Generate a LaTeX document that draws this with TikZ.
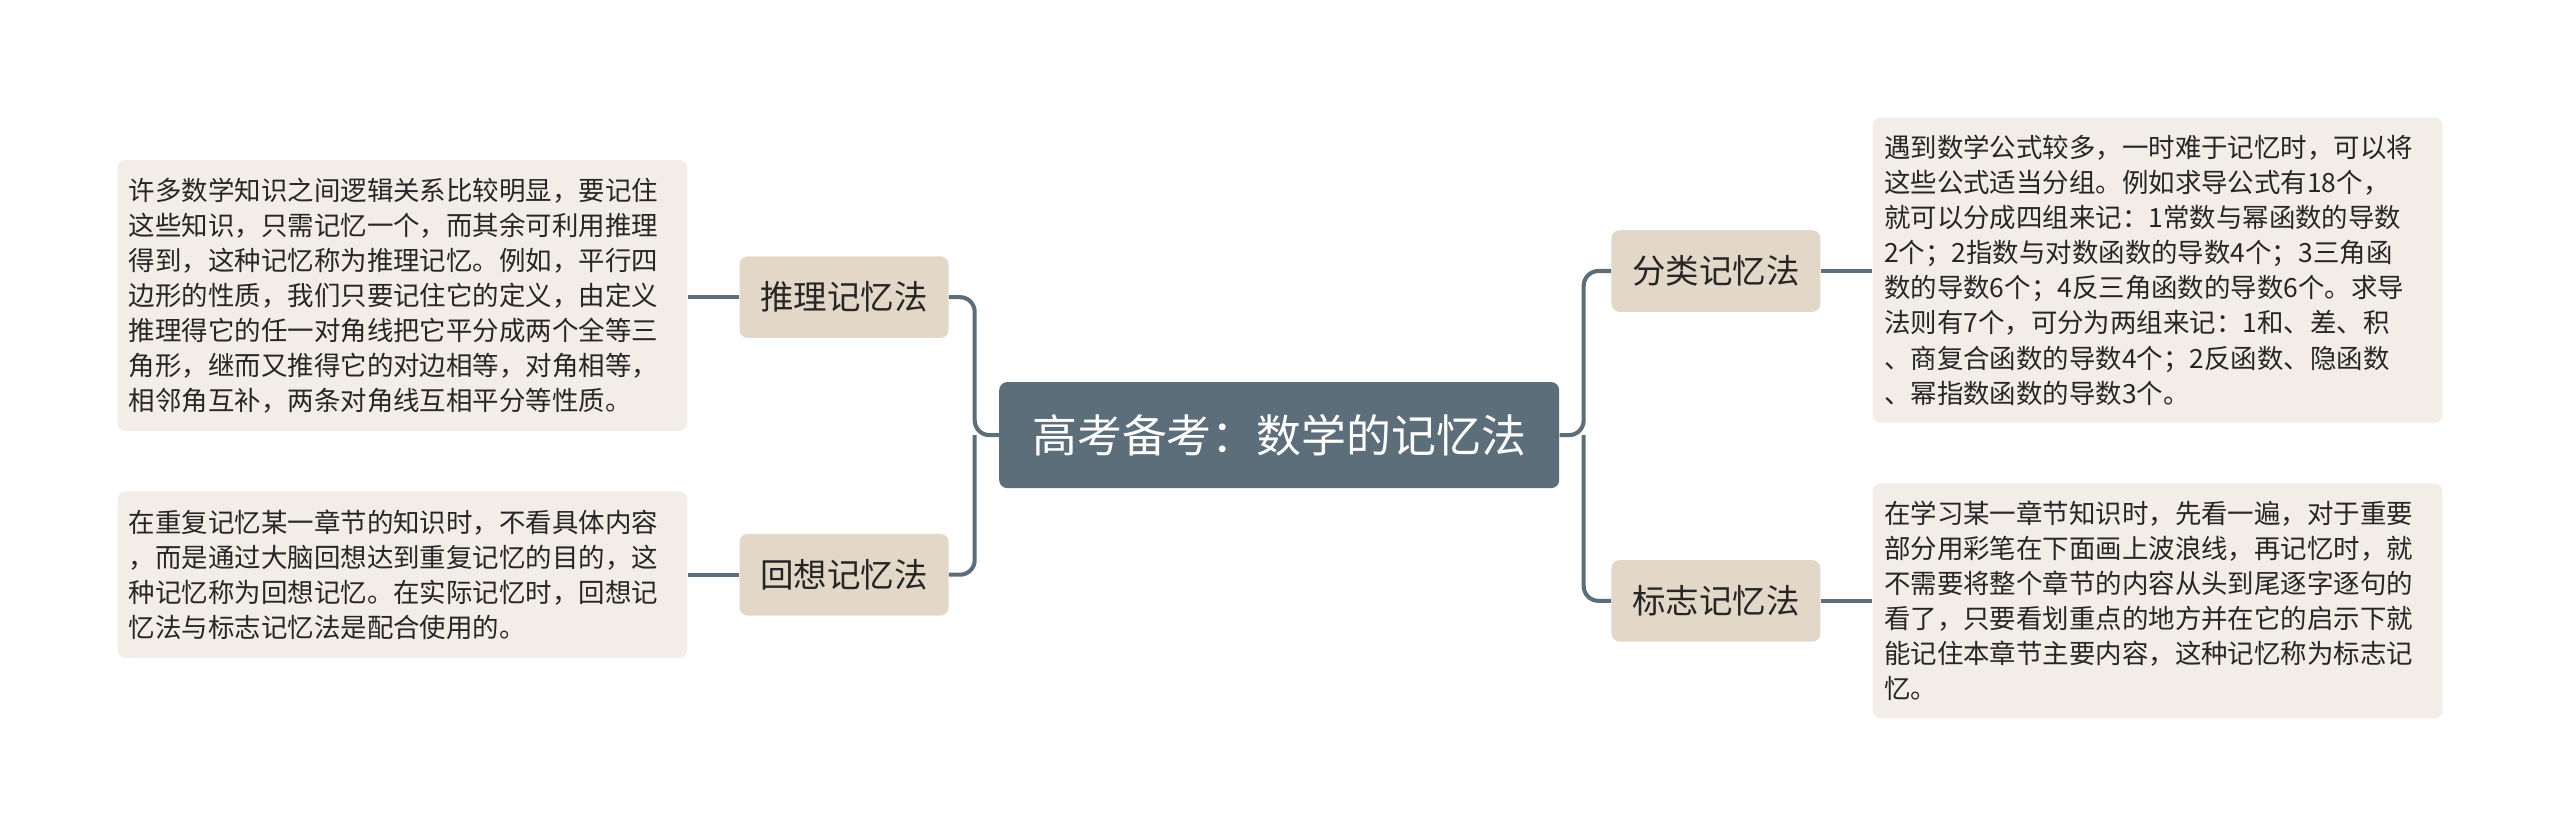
\documentclass[tikz,border=0pt]{standalone}
\usepackage{fontspec}
\setmainfont{Noto Sans CJK SC}
\begin{document}
\begin{tikzpicture}[x=1pt,y=-1pt,
  conn/.style={draw=c1,line width=2.5pt,rounded corners=9pt},
  topic/.style={fill=c2,rounded corners=5pt,minimum width=128pt,minimum height=50pt,font=\fontsize{20.5}{24}\selectfont,text=black!85,inner sep=0pt},
  desc/.style={fill=c3,rounded corners=5pt,minimum width=349pt,text width=335pt,align=left,inner xsep=7pt,inner ysep=0pt,font=\fontsize{16.2}{21.5}\selectfont,text=black!85}]
\definecolor{c1}{HTML}{5B6E7A}
\definecolor{c2}{HTML}{E3D8C8}
\definecolor{c3}{HTML}{F2EEE7}
\useasboundingbox (0,0) rectangle (1568,512);
\node[fill=c1,rounded corners=5pt,minimum width=343pt,minimum height=65pt,text=white,font=\fontsize{27.5}{32}\selectfont,inner sep=0pt] (c) at (783.5,266.5) {高考备考：数学的记忆法};
\node[topic] (t1) at (517,182) {推理记忆法};
\node[topic] (t2) at (517,352) {回想记忆法};
\node[topic] (t3) at (1051,166) {分类记忆法};
\node[topic] (t4) at (1051,368) {标志记忆法};
\node[desc,minimum height=166pt] (d1) at (246.5,181) {许多数学知识之间逻辑关系比较明显，要记住\\这些知识，只需记忆一个，而其余可利用推理\\得到，这种记忆称为推理记忆。例如，平行四\\边形的性质，我们只要记住它的定义，由定义\\推理得它的任一对角线把它平分成两个全等三\\角形，继而又推得它的对边相等，对角相等，\\相邻角互补，两条对角线互相平分等性质。};
\node[desc,minimum height=102pt] (d2) at (246.5,352) {在重复记忆某一章节的知识时，不看具体内容\\，而是通过大脑回想达到重复记忆的目的，这\\种记忆称为回想记忆。在实际记忆时，回想记\\忆法与标志记忆法是配合使用的。};
\node[desc,minimum height=187pt] (d3) at (1321.5,165.5) {遇到数学公式较多，一时难于记忆时，可以将\\这些公式适当分组。例如求导公式有18个，\\就可以分成四组来记：1常数与幂函数的导数\\2个；2指数与对数函数的导数4个；3三角函\\数的导数6个；4反三角函数的导数6个。求导\\法则有7个，可分为两组来记：1和、差、积\\、商复合函数的导数4个；2反函数、隐函数\\、幂指数函数的导数3个。};
\node[desc,minimum height=144pt] (d4) at (1321.5,368) {在学习某一章节知识时，先看一遍，对于重要\\部分用彩笔在下面画上波浪线，再记忆时，就\\不需要将整个章节的内容从头到尾逐字逐句的\\看了，只要看划重点的地方并在它的启示下就\\能记住本章节主要内容，这种记忆称为标志记\\忆。};
\coordinate (jl) at (597,266.5);
\coordinate (jr) at (970,266.5);
\draw[conn] (c.west) -- (jl) |- (t1.east);
\draw[conn] (jl) |- (t2.east);
\draw[conn] (c.east) -- (jr) |- (t3.west);
\draw[conn] (jr) |- (t4.west);
\draw[conn] (t1.west) -- (d1.east|-t1.west);
\draw[conn] (t2.west) -- (d2.east|-t2.west);
\draw[conn] (t3.east) -- (d3.west|-t3.east);
\draw[conn] (t4.east) -- (d4.west|-t4.east);
\end{tikzpicture}
\end{document}
